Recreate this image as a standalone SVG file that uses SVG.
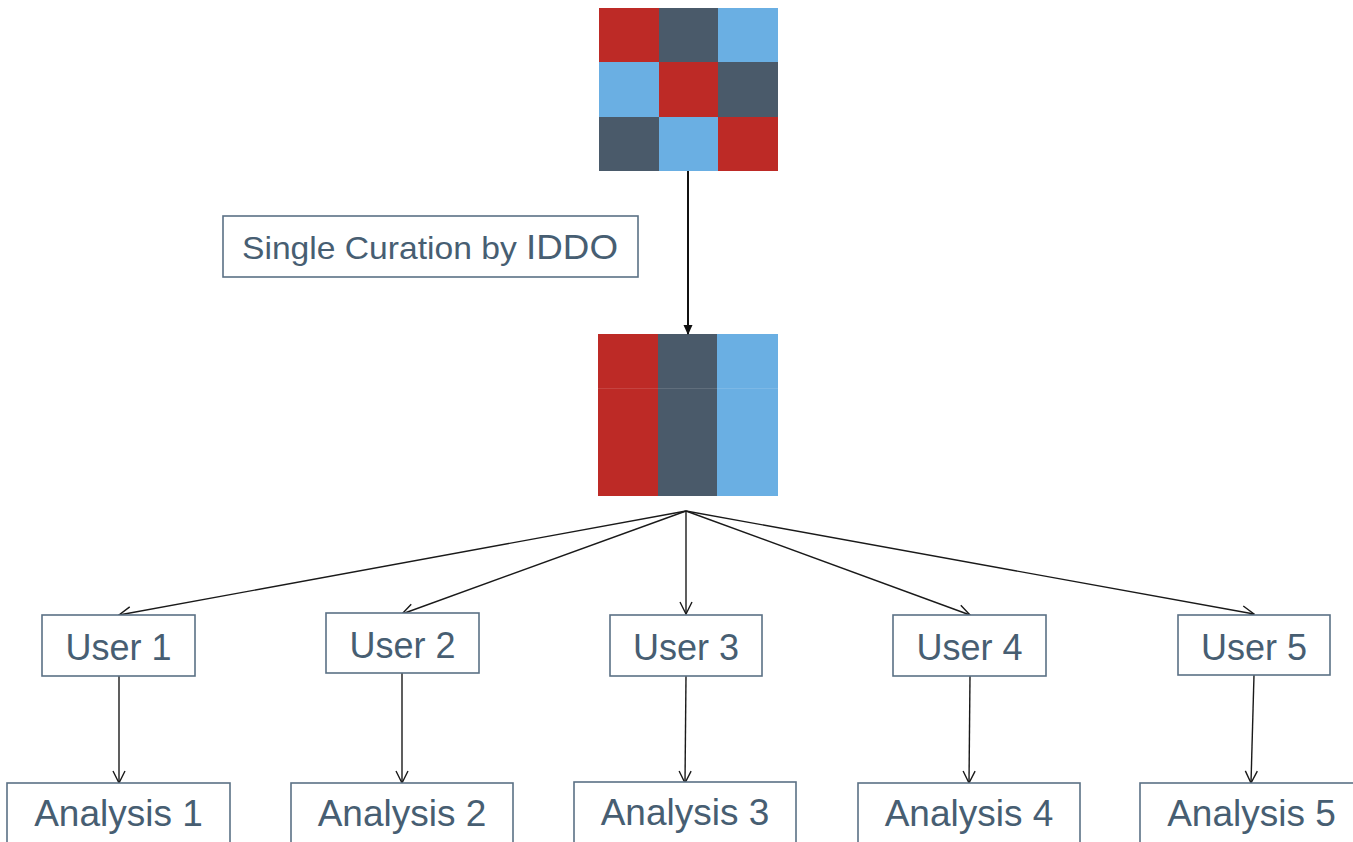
<svg xmlns="http://www.w3.org/2000/svg" width="1353" height="842" viewBox="0 0 1353 842">
<defs>
<style>
.box{fill:#fff;stroke:#5b7185;stroke-width:1.6}
.t{font-family:"Liberation Sans",Arial,sans-serif;fill:#475e72;text-anchor:middle}
.u{font-size:36px}
.a{font-size:37px}
.c{stroke:#1a1a1a;stroke-width:1.4;fill:none}
.r{fill:#bd2a26}.d{fill:#4a5a6a}.b{fill:#6aafe3}
</style>
<marker id="open" viewBox="0 0 14 14" refX="13" refY="7" markerWidth="14" markerHeight="14" markerUnits="userSpaceOnUse" orient="auto">
<path d="M1,1 L13,7 L1,13" fill="none" stroke="#1a1a1a" stroke-width="1.4"/>
</marker>
<marker id="solid" viewBox="0 0 10 10" refX="9" refY="5" markerWidth="10" markerHeight="10" markerUnits="userSpaceOnUse" orient="auto">
<path d="M0,0.5 L10,5 L0,9.5 Z" fill="#111"/>
</marker>
</defs>
<rect width="1353" height="842" fill="#fff"/>

<g id="matrix">
<rect class="r" x="599" y="8" width="60" height="54"/>
<rect class="d" x="659" y="8" width="59" height="54"/>
<rect class="b" x="718" y="8" width="60" height="54"/>
<rect class="b" x="599" y="62" width="60" height="55"/>
<rect class="r" x="659" y="62" width="59" height="55"/>
<rect class="d" x="718" y="62" width="60" height="55"/>
<rect class="d" x="599" y="117" width="60" height="54"/>
<rect class="b" x="659" y="117" width="59" height="54"/>
<rect class="r" x="718" y="117" width="60" height="54"/>
</g>

<g id="curated">
<rect class="r" x="598" y="334" width="60" height="162"/>
<rect class="d" x="658" y="334" width="59" height="162"/>
<rect class="b" x="717" y="334" width="61" height="162"/>
<line x1="598" y1="388.5" x2="778" y2="388.5" stroke="#ffffff" stroke-opacity="0.12" stroke-width="1"/>
</g>

<g id="label">
<rect class="box" x="223" y="216" width="415" height="61"/>
<text class="t" x="430" y="259" font-size="32" textLength="376" lengthAdjust="spacingAndGlyphs">Single Curation by <tspan font-size="35">IDDO</tspan></text>
</g>

<g id="connectors">
<line x1="688" y1="171" x2="688" y2="334" stroke="#111" stroke-width="2" marker-end="url(#solid)"/>
<line class="c" x1="686" y1="511" x2="119" y2="615" marker-end="url(#open)"/>
<line class="c" x1="686" y1="511" x2="402" y2="614" marker-end="url(#open)"/>
<line class="c" x1="686" y1="511" x2="686" y2="614" marker-end="url(#open)"/>
<line class="c" x1="686" y1="511" x2="970" y2="615" marker-end="url(#open)"/>
<line class="c" x1="686" y1="511" x2="1254" y2="614" marker-end="url(#open)"/>
<line class="c" x1="119" y1="676" x2="119" y2="783" marker-end="url(#open)"/>
<line class="c" x1="402" y1="673" x2="402" y2="783" marker-end="url(#open)"/>
<line class="c" x1="686" y1="676" x2="685" y2="783" marker-end="url(#open)"/>
<line class="c" x1="970" y1="676" x2="969" y2="783" marker-end="url(#open)"/>
<line class="c" x1="1254" y1="675" x2="1251" y2="783" marker-end="url(#open)"/>
</g>

<g id="user1"><rect class="box" x="42" y="615" width="153" height="61"/><text class="t u" x="118.5" y="660">User 1</text></g>
<g id="user2"><rect class="box" x="326" y="613" width="153" height="60"/><text class="t u" x="402.5" y="658">User 2</text></g>
<g id="user3"><rect class="box" x="610" y="615" width="152" height="61"/><text class="t u" x="686" y="660">User 3</text></g>
<g id="user4"><rect class="box" x="893" y="615" width="153" height="61"/><text class="t u" x="969.5" y="660">User 4</text></g>
<g id="user5"><rect class="box" x="1178" y="615" width="152" height="60"/><text class="t u" x="1254" y="660">User 5</text></g>

<g id="analysis1"><rect class="box" x="7" y="783" width="223" height="70"/><text class="t a" x="118.5" y="826">Analysis 1</text></g>
<g id="analysis2"><rect class="box" x="291" y="783" width="222" height="70"/><text class="t a" x="402" y="826">Analysis 2</text></g>
<g id="analysis3"><rect class="box" x="574" y="782" width="222" height="70"/><text class="t a" x="685" y="825">Analysis 3</text></g>
<g id="analysis4"><rect class="box" x="858" y="783" width="222" height="70"/><text class="t a" x="969" y="826">Analysis 4</text></g>
<g id="analysis5"><rect class="box" x="1140" y="783" width="223" height="70"/><text class="t a" x="1251.5" y="826">Analysis 5</text></g>
</svg>
